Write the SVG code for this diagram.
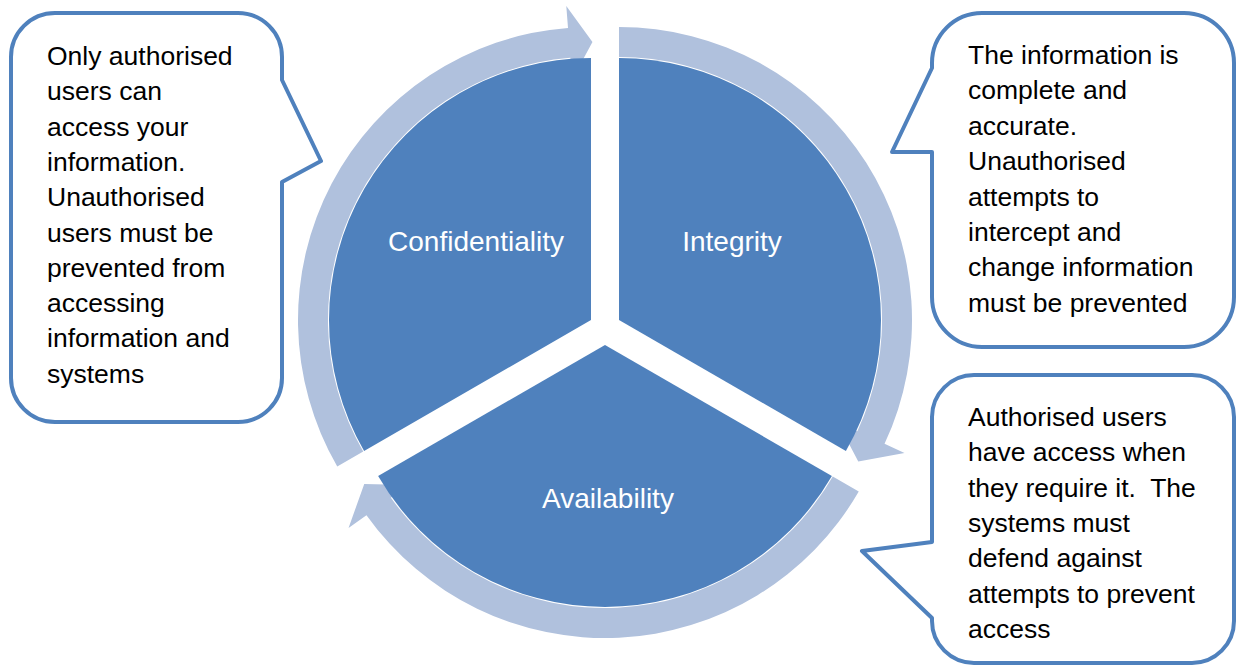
<svg xmlns="http://www.w3.org/2000/svg" width="1236" height="666" viewBox="0 0 1236 666">
  <style>
    .seg { fill: #4F81BD; }
    .ring { fill: #B0C1DD; }
    .label { font-family: "Liberation Sans", Arial, sans-serif; font-size: 28px; fill: #FFFFFF; text-anchor: middle; }
    .callout { fill: #FFFFFF; stroke: #4F81BD; stroke-width: 4; stroke-linejoin: round; }
    .note { font-family: "Liberation Sans", Arial, sans-serif; font-size: 26.5px; fill: #000000; }
  </style>

  <!-- circular arrows running clockwise around the segments -->
  <g id="connectors">
    <path class="ring" d="M 337.25 466.5 A 293 293 0 0 1 568.01 27.9 L 566.29 5.97 L 592.46 42 L 572.09 79.74 L 570.37 57.81 A 263 263 0 0 0 363.23 451.5 Z"/>
    <path class="ring" d="M 619 27 A 293 293 0 0 1 884.55 443.83 L 904.49 453.12 L 858.29 461.51 L 837.42 421.85 L 857.36 431.15 A 263 263 0 0 0 619 57 Z"/>
    <path class="ring" d="M 858.75 491.5 A 293 293 0 0 1 366.46 515.15 L 348.55 527.92 L 364.24 484 L 408.8 484.95 L 390.89 497.72 A 263 263 0 0 0 832.77 476.5 Z"/>
  </g>

  <!-- pie segments -->
  <g id="confidentiality">
    <path class="seg" d="M 591 320 L 364.1 451 A 262 262 0 0 1 591 58 Z"/>
    <text class="label" x="476" y="251">Confidentiality</text>
  </g>
  <g id="integrity">
    <path class="seg" d="M 619 320 L 619 58 A 262 262 0 0 1 845.9 451 Z"/>
    <text class="label" x="732" y="251">Integrity</text>
  </g>
  <g id="availability">
    <path class="seg" d="M 605 345 L 831.9 476 A 262 262 0 0 1 378.1 476 Z"/>
    <text class="label" x="608" y="508">Availability</text>
  </g>

  <!-- speech-bubble notes -->
  <g id="note-confidentiality">
    <path class="callout" d="M 55 13 H 238 A 44 44 0 0 1 282 57 V 80 L 321 161 L 282 182 V 378 A 44 44 0 0 1 238 422 H 55 A 44 44 0 0 1 11 378 V 57 A 44 44 0 0 1 55 13 Z"/>
    <text class="note" x="47" y="65">Only authorised</text>
    <text class="note" x="47" y="100.3">users can</text>
    <text class="note" x="47" y="135.6">access your</text>
    <text class="note" x="47" y="170.9">information.</text>
    <text class="note" x="47" y="206.2">Unauthorised</text>
    <text class="note" x="47" y="241.5">users must be</text>
    <text class="note" x="47" y="276.8">prevented from</text>
    <text class="note" x="47" y="312.1">accessing</text>
    <text class="note" x="47" y="347.4">information and</text>
    <text class="note" x="47" y="382.7">systems</text>
  </g>

  <g id="note-integrity">
    <path class="callout" d="M 982 13 H 1184 A 50 50 0 0 1 1234 63 V 297 A 50 50 0 0 1 1184 347 H 982 A 50 50 0 0 1 932 297 V 152 L 892 152 L 932 68 V 63 A 50 50 0 0 1 982 13 Z"/>
    <text class="note" x="968" y="64">The information is</text>
    <text class="note" x="968" y="99.4">complete and</text>
    <text class="note" x="968" y="134.8">accurate.</text>
    <text class="note" x="968" y="170.2">Unauthorised</text>
    <text class="note" x="968" y="205.6">attempts to</text>
    <text class="note" x="968" y="241">intercept and</text>
    <text class="note" x="968" y="276.4">change information</text>
    <text class="note" x="968" y="311.8">must be prevented</text>
  </g>

  <g id="note-availability">
    <path class="callout" d="M 974 375 H 1192 A 42 42 0 0 1 1234 417 V 621 A 42 42 0 0 1 1192 663 H 974 A 42 42 0 0 1 932 621 V 618 L 862 551 L 932 542 V 417 A 42 42 0 0 1 974 375 Z"/>
    <text class="note" x="968" y="425.7">Authorised users</text>
    <text class="note" x="968" y="461.1">have access when</text>
    <text class="note" x="968" y="496.5" xml:space="preserve">they require it.  The</text>
    <text class="note" x="968" y="531.9">systems must</text>
    <text class="note" x="968" y="567.3">defend against</text>
    <text class="note" x="968" y="602.7">attempts to prevent</text>
    <text class="note" x="968" y="638.1">access</text>
  </g>
</svg>
